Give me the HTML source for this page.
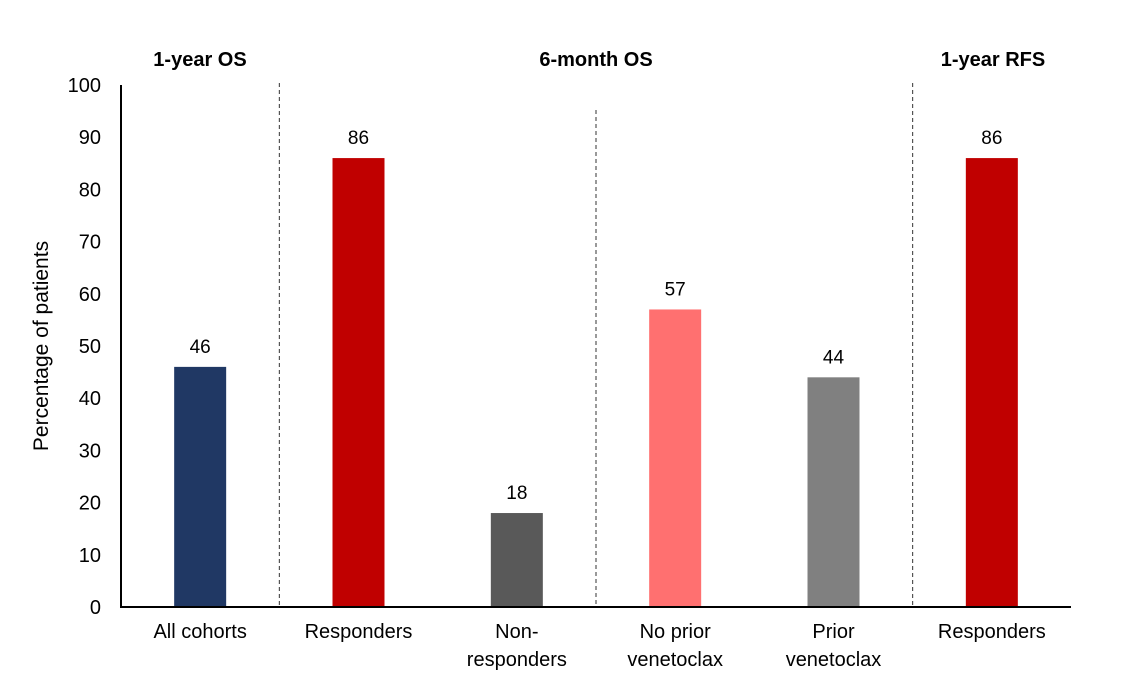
<!DOCTYPE html>
<html><head><meta charset="utf-8"><style>
html,body{margin:0;padding:0;background:#fff;}
svg{display:block;font-family:"Liberation Sans",Arial,sans-serif;}
</style></head><body>
<svg id="chart" width="1135" height="693"></svg>
<script>
const categories = [["All cohorts"],["Responders"],["Non-","responders"],["No prior","venetoclax"],["Prior","venetoclax"],["Responders"]];
const values = [46, 86, 18, 57, 44, 86];
const colors = ["#203864","#c00000","#595959","#ff7070","#808080","#c00000"];
const yTicks = [0,10,20,30,40,50,60,70,80,90,100];
const groups = [{label:"1-year OS", x:200},{label:"6-month OS", x:596},{label:"1-year RFS", x:993}];
const ns="http://www.w3.org/2000/svg";
const svg=document.getElementById('chart');
const x0=121,x1=1071,y0=607,yTop=85;
const band=(x1-x0)/categories.length;
const ys=v=>y0-(v/100)*(y0-yTop);
const xc=i=>x0+band*(i+0.5);
function mk(t,a){const e=document.createElementNS(ns,t);for(const k in a)e.setAttribute(k,a[k]);svg.appendChild(e);return e;}
// dashed separators
const seps=[{i:1,top:83},{i:3,top:110},{i:5,top:83}];
seps.forEach(s=>{const e=mk('line',{x1:x0+band*s.i,x2:x0+band*s.i,y1:s.top,y2:y0,stroke:'#333','stroke-width':1,'stroke-dasharray':'4,3'});

});
values.forEach((v,i)=>{
 const b=mk('rect',{x:xc(i)-26,y:ys(v),width:52,height:y0-ys(v),fill:colors[i]});
 
 
 const t=mk('text',{x:xc(i),y:ys(v)-14,'text-anchor':'middle','font-size':19,fill:'#000'});t.textContent=v;
 
 
 const lab=mk('text',{x:xc(i),y:638,'text-anchor':'middle','font-size':20,fill:'#000'});
 
 
 categories[i].forEach((ln,j)=>{const ts=document.createElementNS(ns,'tspan');ts.setAttribute('x',xc(i));ts.setAttribute('dy',j?28:0);ts.textContent=ln;lab.appendChild(ts);});
});
yTicks.forEach(v=>{const t=mk('text',{x:101,y:ys(v)+7,'text-anchor':'end','font-size':20,fill:'#000'});t.textContent=v;
 
 });
const ya=mk('line',{x1:x0,x2:x0,y1:yTop,y2:y0+1,stroke:'#000','stroke-width':2});


const xa=mk('line',{x1:x0-1,x2:x1,y1:y0,y2:y0,stroke:'#000','stroke-width':2});


groups.forEach(g=>{const t=mk('text',{x:g.x,y:66,'text-anchor':'middle','font-size':20,'font-weight':'bold',fill:'#000'});t.textContent=g.label;
 
 });
const yt=mk('text',{x:48,y:346,'text-anchor':'middle','font-size':21,fill:'#000',transform:'rotate(-90 48 346)'});yt.textContent='Percentage of patients';


</script>
</body></html>
